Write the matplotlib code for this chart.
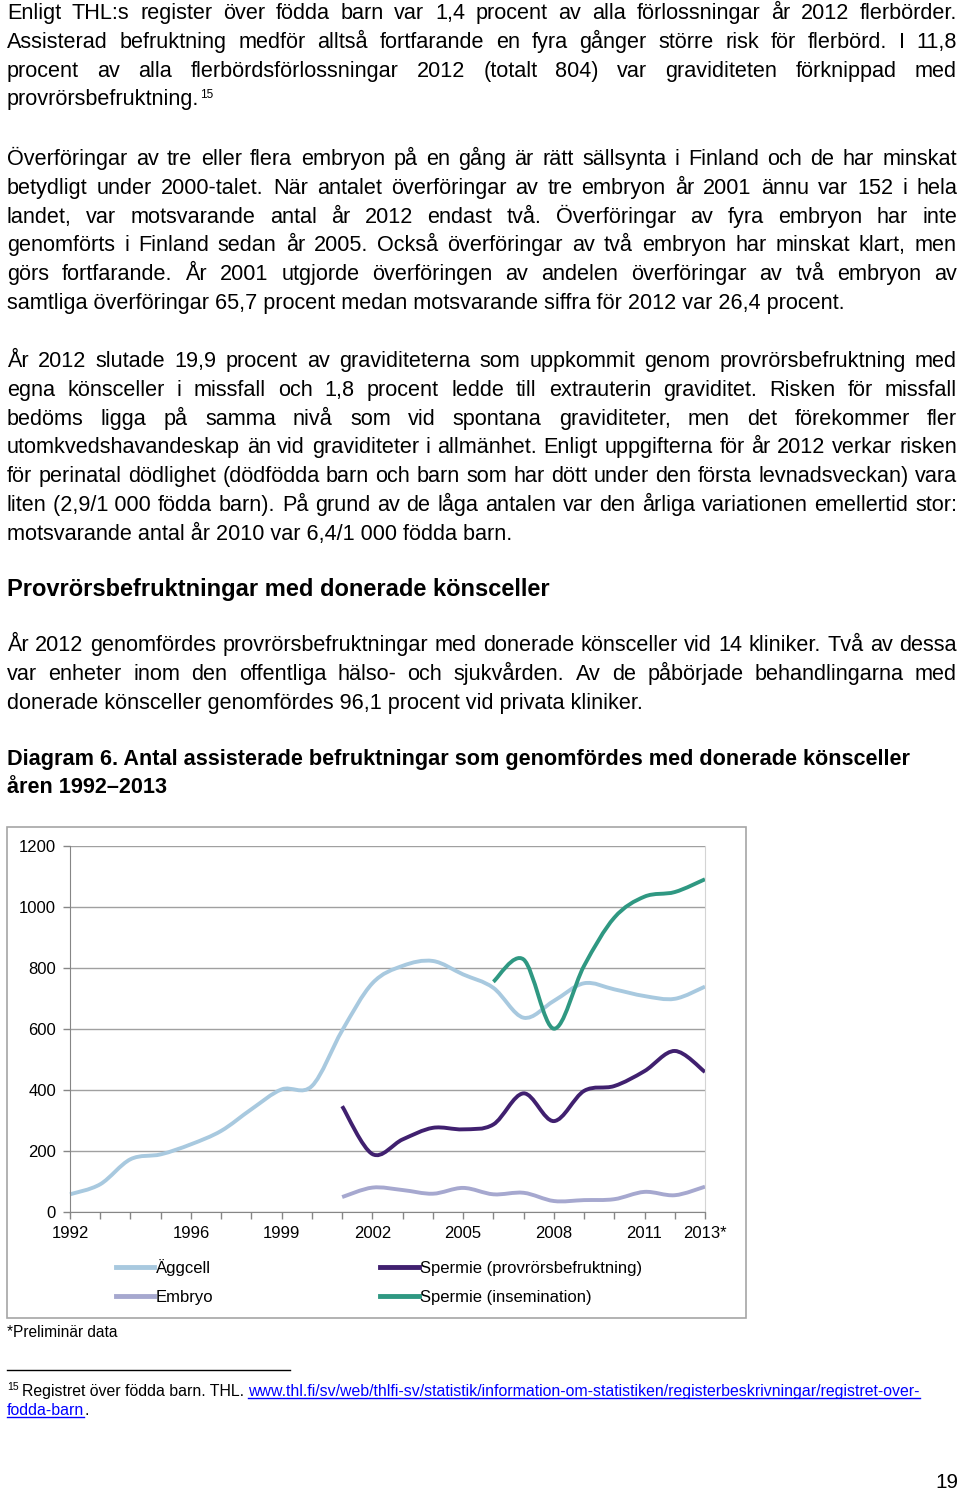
import matplotlib
matplotlib.use('Agg')
import matplotlib.pyplot as plt
import numpy as np
from matplotlib.path import Path
from matplotlib.patches import PathPatch, Rectangle
from matplotlib.lines import Line2D

plt.rcParams['font.family'] = ['Liberation Sans', 'DejaVu Sans']

# data
years = list(range(1992, 2014))
aggcell = [58, 91, 173, 189, 222, 266, 337, 402, 413, 595, 750, 807, 823, 779, 735, 637, 692, 750, 730, 708, 699, 739]
embryo_years = list(range(2001, 2014))
embryo = [49, 80, 72, 60, 79, 58, 63, 36, 39, 42, 66, 55, 83]
sp_ivf_years = list(range(2001, 2014))
sp_ivf = [347, 190, 238, 276, 271, 287, 389, 298, 397, 413, 462, 528, 459]
sp_ins_years = list(range(2006, 2014))
sp_ins = [755, 828, 601, 807, 965, 1034, 1049, 1091]
shown_years = [1992, 1996, 1999, 2002, 2005, 2008, 2011, 2013]
shown_labels = ['1992', '1996', '1999', '2002', '2005', '2008', '2011', '2013*']

W, H = 960, 1490
fig = plt.figure(figsize=(9.6, 14.9), dpi=100)
r = fig.canvas.get_renderer()

def fx(x):
    return x / W

def fy(y):
    return 1 - y / H

BODY = 15.6

def put_line(text, y, justify=False, size=BODY, weight='normal', x0=7, x1=957):
    if not justify:
        return fig.text(fx(x0), fy(y), text, fontsize=size, fontweight=weight, va='baseline')
    words = text.split(' ')
    arts = [fig.text(0, 0, w, fontsize=size, fontweight=weight, va='baseline') for w in words]
    widths = [a.get_window_extent(r).width for a in arts]
    gap = (x1 - x0 - sum(widths)) / (len(words) - 1)
    x = x0
    for a, w in zip(arts, widths):
        a.set_position((fx(x), fy(y)))
        x += w + gap

def paragraph(lines, y0, step=28.8):
    for i, ln in enumerate(lines):
        put_line(ln, y0 + i * step, justify=(i < len(lines) - 1))

p1 = ["Enligt THL:s register över födda barn var 1,4 procent av alla förlossningar år 2012 flerbörder.",
      "Assisterad befruktning medför alltså fortfarande en fyra gånger större risk för flerbörd. I 11,8",
      "procent av alla flerbördsförlossningar 2012 (totalt 804) var graviditeten förknippad med",
      "provrörsbefruktning."]
p2 = ["Överföringar av tre eller flera embryon på en gång är rätt sällsynta i Finland och de har minskat",
      "betydligt under 2000-talet. När antalet överföringar av tre embryon år 2001 ännu var 152 i hela",
      "landet, var motsvarande antal år 2012 endast två. Överföringar av fyra embryon har inte",
      "genomförts i Finland sedan år 2005. Också överföringar av två embryon har minskat klart, men",
      "görs fortfarande. År 2001 utgjorde överföringen av andelen överföringar av två embryon av",
      "samtliga överföringar 65,7 procent medan motsvarande siffra för 2012 var 26,4 procent."]
p3 = ["År 2012 slutade 19,9 procent av graviditeterna som uppkommit genom provrörsbefruktning med",
      "egna könsceller i missfall och 1,8 procent ledde till extrauterin graviditet. Risken för missfall",
      "bedöms ligga på samma nivå som vid spontana graviditeter, men det förekommer fler",
      "utomkvedshavandeskap än vid graviditeter i allmänhet. Enligt uppgifterna för år 2012 verkar risken",
      "för perinatal dödlighet (dödfödda barn och barn som har dött under den första levnadsveckan) vara",
      "liten (2,9/1\u00a0000 födda barn). På grund av de låga antalen var den årliga variationen emellertid stor:",
      "motsvarande antal år 2010 var 6,4/1\u00a0000 födda barn."]
p4 = ["År 2012 genomfördes provrörsbefruktningar med donerade könsceller vid 14 kliniker. Två av dessa",
      "var enheter inom den offentliga hälso- och sjukvården. Av de påbörjade behandlingarna med",
      "donerade könsceller genomfördes 96,1 procent vid privata kliniker."]

paragraph(p1, 19)
t = fig.texts[-1]
xe = t.get_window_extent(r).x1
fig.text(fx(xe + 1), fy(98), "15", fontsize=8.5, va='baseline')
paragraph(p2, 165)
paragraph(p3, 367)
put_line("Provrörsbefruktningar med donerade könsceller", 596, size=17, weight='bold')
paragraph(p4, 651)
put_line("Diagram 6. Antal assisterade befruktningar som genomfördes med donerade könsceller", 765, weight='bold')
put_line("åren 1992–2013", 793, weight='bold')

# chart frame
fig.add_artist(Rectangle((fx(7), fy(1318)), fx(739), 491 / H, transform=fig.transFigure,
                         fill=False, edgecolor='#a6a6a6', lw=1.2))

ax = fig.add_axes([fx(70), fy(1212), fx(635), 366 / H])
ax.set_xlim(1992, 2013)
ax.set_ylim(0, 1200)
ax.set_yticks(range(0, 1201, 200))
ax.set_xticks(years)
ax.set_xticklabels([shown_labels[shown_years.index(y)] if y in shown_years else '' for y in years])
ax.tick_params(axis='both', labelsize=12, color='#868686', length=5, width=1)
ax.tick_params(axis='x', pad=5)
ax.tick_params(axis='y', pad=5)
ax.grid(axis='y', color='#a0a0a0', lw=1)
ax.set_axisbelow(True)
ax.spines['top'].set_visible(False)
ax.spines['left'].set_color('#868686')
ax.spines['bottom'].set_color('#868686')
ax.spines['right'].set_color('#d4d4d4')


def smooth_path(xs, ys):
    pts = np.column_stack([xs, ys]).astype(float)
    n = len(pts)
    verts = [pts[0]]
    codes = [Path.MOVETO]
    for i in range(n - 1):
        p0 = pts[i - 1] if i > 0 else pts[i]
        p1, p2 = pts[i], pts[i + 1]
        p3 = pts[i + 2] if i + 2 < n else pts[i + 1]
        verts += [p1 + (p2 - p0) / 6, p2 - (p3 - p1) / 6, p2]
        codes += [Path.CURVE4] * 3
    return Path(verts, codes)

series = [
    (years, aggcell, '#a8c9df', 'Äggcell'),
    (embryo_years, embryo, '#a6a8cf', 'Embryo'),
    (sp_ivf_years, sp_ivf, '#40206f', 'Spermie (provrörsbefruktning)'),
    (sp_ins_years, sp_ins, '#2f9882', 'Spermie (insemination)'),
]
handles = []
for xs, ys, c, lab in series:
    ax.add_patch(PathPatch(smooth_path(xs, ys), fill=False, edgecolor=c, lw=2.8,
                           capstyle='butt', joinstyle='round', clip_on=False))
    handles.append(Line2D([], [], color=c, lw=3.5, label=lab))

fig.legend(handles=handles, ncol=2, loc='upper left', bbox_to_anchor=(fx(116), fy(1259)),
           frameon=False, fontsize=12, handlelength=2.3, handletextpad=0.1,
           columnspacing=10.0, labelspacing=0.86, borderpad=0, borderaxespad=0)

fig.text(fx(7), fy(1337), "*Preliminär data", fontsize=11.2, va='baseline')

# footnote
FN = 11.4
fig.add_artist(Line2D([fx(7), fx(290)], [fy(1370), fy(1370)], color='black', lw=1, transform=fig.transFigure))
fig.text(fx(7), fy(1390), "15", fontsize=7.5, va='baseline')
t1 = fig.text(fx(22), fy(1396), "Registret över födda barn. THL. ", fontsize=FN, va='baseline')
x_link = t1.get_window_extent(r).x1
link1 = fig.text(x_link / W, fy(1396), "www.thl.fi/sv/web/thlfi-sv/statistik/information-om-statistiken/registerbeskrivningar/registret-over-",
                 fontsize=FN, va='baseline', color='#0000ff')
link2 = fig.text(fx(7), fy(1415), "fodda-barn", fontsize=FN, va='baseline', color='#0000ff')
for lk, yb in [(link1, 1396), (link2, 1415)]:
    bb = lk.get_window_extent(r)
    fig.add_artist(Line2D([bb.x0 / W, bb.x1 / W], [fy(yb + 2), fy(yb + 2)], color='#0000ff', lw=1,
                          transform=fig.transFigure))
xe2 = link2.get_window_extent(r).x1
fig.text(xe2 / W, fy(1415), ".", fontsize=FN, va='baseline')

fig.text(fx(958), fy(1488), "19", fontsize=14.9, va='baseline', ha='right')

fig.savefig('out.png', dpi=100)
